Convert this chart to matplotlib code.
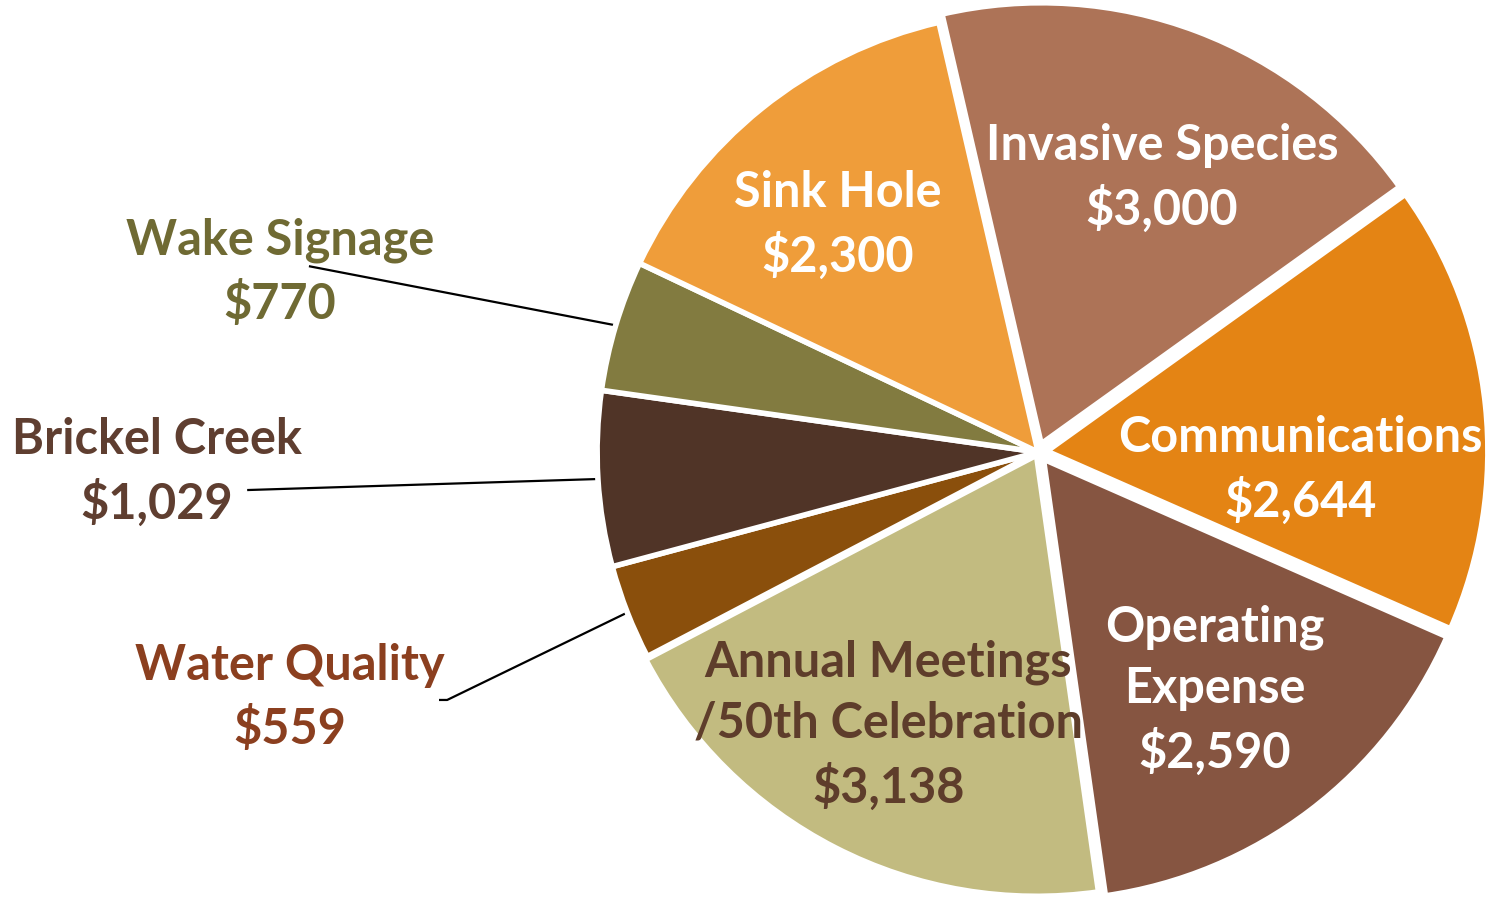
import numpy as np
import matplotlib.pyplot as plt

# --- данные ---
names = ["Invasive Species", "Communications", "Operating\nExpense",
         "Annual Meetings\n/50th Celebration", "Water Quality",
         "Brickel Creek", "Wake Signage", "Sink Hole"]
amounts = [3000, 2644, 2590, 3138, 559, 1029, 770, 2300]

slice_colors = ["#AD7357", "#E48414", "#865541", "#C2BB80",
                "#8A4F0C", "#503427", "#827B40", "#EF9D3A"]
text_colors = ["white", "white", "white", "#5E3D2B",
               "#8B3F1F", "#5F3E30", "#6F6A33", "white"]
explode = [0.02, 0.02, 0.02, 0.008, 0, 0, 0, 0]

# положение подписей (в радиусах пирога)
label_pos = [(0.281, 0.621), (0.594, -0.041), (0.401, -0.540),
             (-0.340, -0.619), (-1.696, -0.556), (-1.998, -0.045),
             (-1.719, 0.408), (-0.454, 0.515)]
# концы выносных линий у подписей (только для мелких секторов)
leader_end = {4: [(-1.356, -0.562), (-1.340, -0.562)],
              5: [(-1.791, -0.086)],
              6: [(-1.651, 0.421)]}

fig = plt.figure(figsize=(14.91, 8.98), dpi=100)
ax = fig.add_axes([0, 0, 1, 1])

wedges, _ = ax.pie(
    amounts, colors=slice_colors, startangle=103, counterclock=False,
    explode=explode, radius=1.0,
    wedgeprops=dict(edgecolor="white", linewidth=4)
)

for i, (nm, val) in enumerate(zip(names, amounts)):
    x, y = label_pos[i]
    ax.text(x, y, f"{nm}\n${val:,}", ha="center", va="center",
            color=text_colors[i], fontsize=35, fontweight="bold",
            family="Lato", linespacing=1.42)

# выносные линии от середины дуги к подписи
for i, pts in leader_end.items():
    w = wedges[i]
    mid = np.deg2rad((w.theta1 + w.theta2) / 2)
    start = (np.cos(mid), np.sin(mid))
    xs = [start[0]] + [p[0] for p in reversed(pts)]
    ys = [start[1]] + [p[1] for p in reversed(pts)]
    ax.plot(xs, ys, color="black", linewidth=1.6, zorder=0.5)

ax.set_xlim(-2.354, 1.027)
ax.set_ylim(-1.011, 1.025)
ax.set_aspect("auto")
ax.axis("off")

plt.savefig("out.png", dpi=100)
plt.close()
